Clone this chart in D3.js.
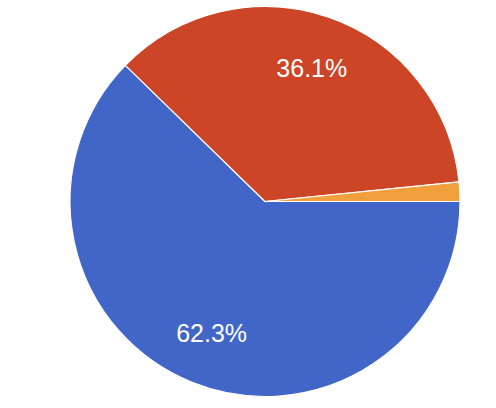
<!DOCTYPE html>
<html><head><meta charset="utf-8">
<script src="https://cdn.jsdelivr.net/npm/d3@7"></script>
<style>body{margin:0;background:#fff}</style>
</head><body>
<svg id="c" width="496" height="408"></svg>
<script>
const categories = ["A", "B", "C"];
const values = [62.3, 36.1, 1.6];
const labels = ["62.3%", "36.1%", ""];
const colors = ["#4166c7", "#cc4527", "#f2a03d"];

const svg = d3.select("#c");
const cx = 265, cy = 201.5, r = 195;
const g = svg.append("g").attr("transform", `translate(${cx},${cy})`);
const pie = d3.pie().sort(null).value(d => d)
  .startAngle(Math.PI / 2).endAngle(Math.PI / 2 + 2 * Math.PI);
const arcs = pie(values);
const arc = d3.arc().innerRadius(0).outerRadius(r);
g.selectAll("path").data(arcs).join("path")
  .attr("d", arc)
  .attr("fill", (d, i) => colors[i])
  .attr("stroke", "#fff").attr("stroke-width", 1.2);
const lab = d3.arc().innerRadius(r * 0.727).outerRadius(r * 0.727);
g.selectAll("text").data(arcs).join("text")
  .attr("transform", d => `translate(${lab.centroid(d)})`)
  .attr("text-anchor", "middle").attr("dy", "0.36em")
  .attr("font-family", "Liberation Sans, Arial, sans-serif")
  .attr("font-size", 25).attr("fill", "#fff")
  .text((d, i) => labels[i]);
</script>
</body></html>
